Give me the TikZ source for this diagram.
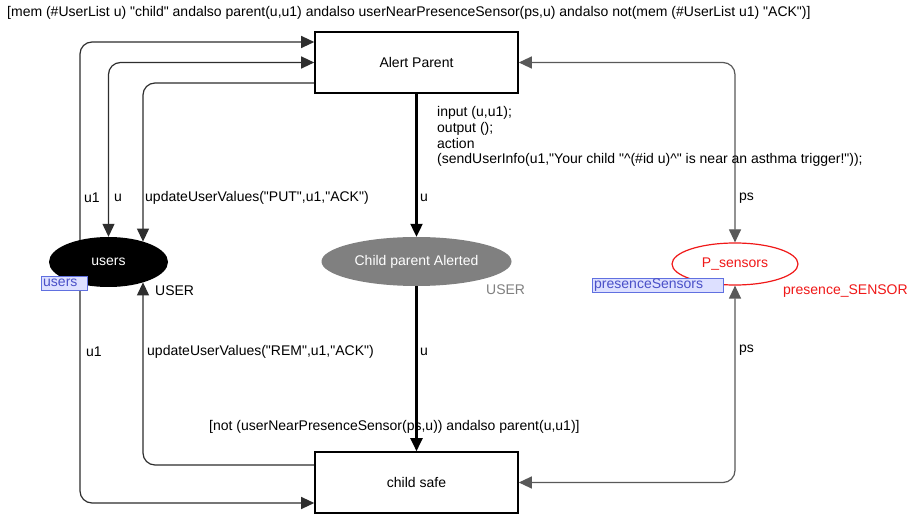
\documentclass[tikz,border=0pt]{standalone}
\usepackage{fontspec}
\setmainfont{Liberation Sans}[Ligatures=TeXOff]
\usetikzlibrary{arrows.meta,shapes.geometric,calc}
\definecolor{lblfill}{HTML}{DDE0FF}
\definecolor{lbldraw}{HTML}{6070E0}
\definecolor{lbltext}{HTML}{4A50C8}
\definecolor{pred}{HTML}{F01818}
\definecolor{pgray}{HTML}{808080}
\begin{document}
\begin{tikzpicture}[x=1pt,y=-1pt,
  every node/.style={font=\fontsize{14}{15.7}\selectfont},
  trans/.style={draw=black, line width=1.6pt, minimum width=203pt, minimum height=61pt, inner sep=0pt},
  place/.style={ellipse, inner sep=0pt},
  tip/.tip={Triangle[length=13pt,width=12pt]},
  arc/.style={draw=black!82, line width=1.2pt, rounded corners=12pt, -tip},
  biarc/.style={arc, tip-tip},
  thickarc/.style={draw=black, line width=2.2pt, -tip},
  psarc/.style={draw=black!65, line width=1.2pt, rounded corners=12pt, tip-tip},
  lab/.style={inner sep=0pt, anchor=west},
  lblbox/.style={draw=lbldraw, fill=lblfill, text=lbltext, inner xsep=2pt, inner ysep=0pt, minimum height=14pt, align=left, anchor=west}
]
\useasboundingbox (0,0) rectangle (913,518);
\fill[white] (0,0) rectangle (913,518);

% transitions
\node[trans] (AP) at (416.5,62.5) {Alert Parent};
\node[trans] (CS) at (416.5,482.5) {child safe};

% places
\node[place, fill=black, text=white, minimum width=119pt, minimum height=50pt] (users) at (108.5,262) {users};
\node[place, fill=pgray, text=white, minimum width=190pt, minimum height=49pt] (CPA) at (416.5,261.5) {Child parent Alerted};
\node[place, draw=pred, line width=1.2pt, fill=white, text=pred, minimum width=126pt, minimum height=42pt] (PS) at (735,264) {P\_sensors};

% arcs
\draw[arc] ($(users.center)+(-28.5,-22)$) |- (AP.west |- 0,42);
\draw[biarc] (AP.west) -| (users.north);
\draw[arc] (AP.west |- 0,83) -| ($(users.center)+(34.5,-20.4)$);
\draw[thickarc] (AP.south) -- (CPA.north);
\draw[psarc] (AP.east) -| (PS.north);
\draw[thickarc] (CPA.south) -- (CS.north);
\draw[arc] ($(users.center)+(-28.5,22)$) |- (CS.west |- 0,503);
\draw[arc] (CS.west |- 0,465) -| ($(users.center)+(34.5,20.4)$);
\draw[psarc] (CS.east) -| (PS.south);

% arc labels
\node[lab] (l1) at (84,198) {u1};
\node[lab] (l2) at (114,198) {u};
\node[lab] (l3) at (145,198) {updateUserValues("PUT",u1,"ACK")};
\node[lab] (l4) at (420,198) {u};
\node[lab] (l5) at (739,198) {ps};
\node[lab] (l6) at (86,352) {u1};
\node[lab] (l7) at (147,352) {updateUserValues("REM",u1,"ACK")};
\node[lab] (l8) at (420,352) {u};
\node[lab] (l9) at (739,350) {ps};

% guards and code
\node[lab] (g1) at (7,13) {[mem (\#UserList u) "child" andalso parent(u,u1) andalso userNearPresenceSensor(ps,u) andalso not(mem (\#UserList u1) "ACK")]};
\node[lab] (g2) at (209,427) {[not (userNearPresenceSensor(ps,u)) andalso parent(u,u1)]};
\node[inner sep=0pt, anchor=north west, align=left] (code) at (437,106.5) {input (u,u1);\\output ();\\action\\(sendUserInfo(u1,"Your child "\textasciicircum(\#id u)\textasciicircum" is near an asthma trigger!"));};

% colour sets and initial markings
\node[lab] (t1) at (155,291) {USER};
\node[lab, text=pgray] (t2) at (486,290) {USER};
\node[lab, text=pred] (t3) at (783,291) {presence\_SENSOR};
\node[lblbox, text width=42pt] (m1) at (41,283) {users};
\node[lblbox, text width=127pt] (m2) at (592,285.5) {presenceSensors};
\end{tikzpicture}
\end{document}
